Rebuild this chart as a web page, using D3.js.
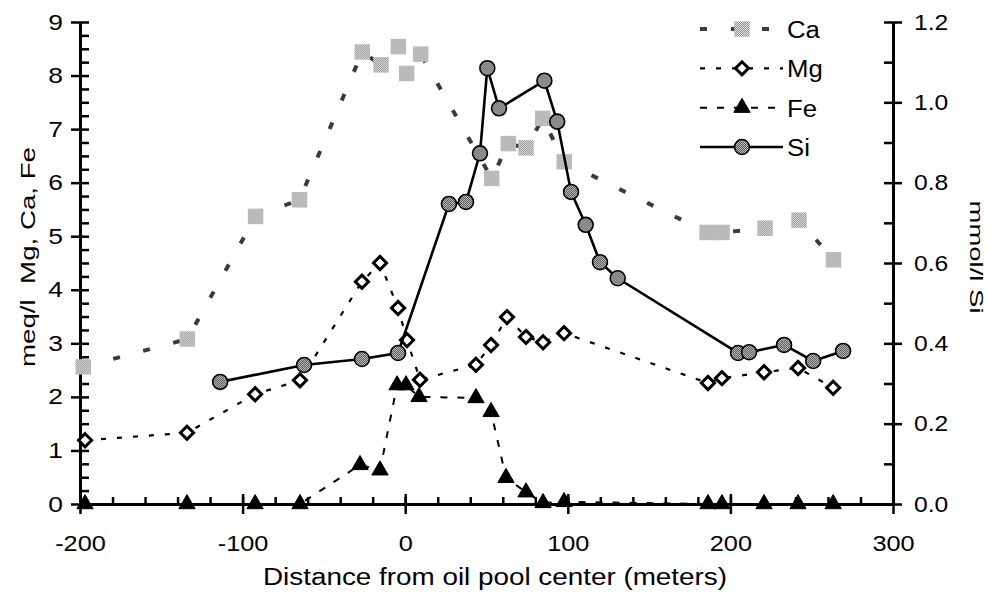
<!DOCTYPE html>
<html>
<head>
<meta charset="utf-8">
<script src="https://cdn.jsdelivr.net/npm/d3@7"></script>
<style>
  body { margin: 0; background: #fff; }
  svg { display: block; font-family: "Liberation Sans", Arial, Helvetica, sans-serif; }
</style>
</head>
<body>
<svg id="chart" width="989" height="598"></svg>
<script>
// distance from oil pool center (m) and concentrations
const caX = [-198, -134, -92, -65, -26.4, -14.9, -4.2, 0.9, 9.5, 53.2, 63.4, 74.3, 84.6, 97.8, 185.7, 194.9, 221.3, 242.2, 263.4];
const caY = [2.56, 3.08, 5.37, 5.68, 8.44, 8.20, 8.54, 8.04, 8.40, 6.08, 6.73, 6.65, 7.20, 6.39, 5.07, 5.07, 5.15, 5.30, 4.56];

const mgX = [-196.9, -134.2, -92.3, -64.7, -26.6, -15.5, -4.4, 1.1, 9.1, 43.5, 52.8, 62.6, 74.3, 84.8, 97.7, 186.2, 194.8, 220.7, 241.6, 263.2];
const mgY = [1.19, 1.33, 2.05, 2.31, 4.15, 4.50, 3.66, 3.06, 2.32, 2.60, 2.97, 3.49, 3.12, 3.02, 3.19, 2.26, 2.35, 2.46, 2.54, 2.17];

const feX = [-196.9, -134.2, -92.3, -64.7, -27.8, -15.5, -5.0, 0.5, 8.5, 43.5, 52.8, 62.0, 74.3, 84.8, 97.7, 186.2, 194.8, 220.7, 241.6, 263.2];
const feY = [0, 0, 0, 0, 0.73, 0.63, 2.22, 2.22, 2.00, 1.98, 1.72, 0.49, 0.22, 0.02, 0.04, 0, 0, 0, 0, 0];

const siX = [-113.8, -62.2, -26.6, -4.4, 26.9, 37.4, 46.0, 50.5, 57.7, 85.6, 93.5, 102.0, 111.0, 119.8, 130.7, 204.7, 211.5, 233.0, 250.9, 269.3];
const siY = [0.304, 0.346, 0.361, 0.376, 0.747, 0.752, 0.873, 1.085, 0.985, 1.054, 0.952, 0.777, 0.695, 0.602, 0.562, 0.376, 0.378, 0.396, 0.356, 0.381];

const xMajor = [-200, -100, 0, 100, 200, 300];
const yLeftMajor = [0, 1, 2, 3, 4, 5, 6, 7, 8, 9];
const yRightMajor = [0, 0.2, 0.4, 0.6, 0.8, 1.0, 1.2];
const legendNames = ["Ca", "Mg", "Fe", "Si"];

const svg = d3.select("#chart");

const x = d3.scaleLinear().domain([-200, 300]).range([80, 893]);
const yL = d3.scaleLinear().domain([0, 9]).range([504, 22]);
const yR = d3.scaleLinear().domain([0, 1.2]).range([504, 22]);

// stipple fills
const defs = svg.append("defs");
function stipple(id, light, dark) {
  const p = defs.append("pattern").attr("id", id)
    .attr("width", 2).attr("height", 2).attr("patternUnits", "userSpaceOnUse");
  p.append("rect").attr("width", 2).attr("height", 2).attr("fill", light);
  p.append("rect").attr("width", 1).attr("height", 1).attr("fill", dark);
  p.append("rect").attr("x", 1).attr("y", 1).attr("width", 1).attr("height", 1).attr("fill", dark);
}
stipple("stipCa", "#e4e4e4", "#909090");
stipple("stipSi", "#c4c4c4", "#505050");

// stretch text a little, the original type is wide
function widen(sel, k) {
  sel.each(function () {
    const w = this.getComputedTextLength();
    d3.select(this).attr("textLength", w * k).attr("lengthAdjust", "spacingAndGlyphs");
  });
}

function styleAxis(g) {
  g.select(".domain").attr("stroke", "#000").attr("stroke-width", 3);
  g.selectAll(".tick line").attr("stroke", "#000").attr("stroke-width", 2.5);
  g.selectAll("text").attr("fill", "#000").style("font-size", "22px");
}

// x axis (plain hyphen for negatives, as in the original)
svg.append("g").attr("transform", "translate(0,504)")
  .call(d3.axisBottom(x).tickValues(d3.range(-200, 301, 20)).tickSize(-7).tickSizeOuter(0).tickFormat(""))
  .call(styleAxis);
const xg = svg.append("g").attr("transform", "translate(0,504)")
  .call(d3.axisBottom(x).tickValues(xMajor).tickSize(10).tickSizeOuter(0).tickPadding(21).tickFormat(d => String(d)))
  .call(styleAxis);
xg.selectAll(".tick line").attr("y1", -10);
widen(xg.selectAll("text"), 1.15);

// left axis
svg.append("g").attr("transform", "translate(80,0)")
  .call(d3.axisLeft(yL).tickValues(d3.range(0, 9.01, 0.25)).tickSize(-9).tickSizeOuter(0).tickFormat(""))
  .call(styleAxis);
const ylg = svg.append("g").attr("transform", "translate(80,0)")
  .call(d3.axisLeft(yL).tickValues(yLeftMajor).tickSize(9).tickSizeOuter(0).tickPadding(8).tickFormat(d => String(d)))
  .call(styleAxis);
widen(ylg.selectAll("text"), 1.2);

// right axis
svg.append("g").attr("transform", "translate(893,0)")
  .call(d3.axisRight(yR).tickValues(d3.range(0, 1.21, 0.1)).tickSize(-9).tickSizeOuter(0).tickFormat(""))
  .call(styleAxis);
const yrg = svg.append("g").attr("transform", "translate(893,0)")
  .call(d3.axisRight(yR).tickValues(yRightMajor).tickSize(9).tickSizeOuter(0).tickPadding(12).tickFormat(d3.format(".1f")))
  .call(styleAxis);
widen(yrg.selectAll("text"), 1.12);

// axis titles
svg.append("text").attr("x", 495).attr("y", 585).attr("text-anchor", "middle")
  .style("font-size", "23px").attr("textLength", 464).attr("lengthAdjust", "spacingAndGlyphs")
  .text("Distance from oil pool center (meters)");
svg.append("text").attr("transform", "translate(35,257) rotate(-90)").attr("text-anchor", "middle")
  .style("font-size", "21px").style("white-space", "pre").attr("textLength", 220).attr("lengthAdjust", "spacingAndGlyphs")
  .text("meq/l  Mg, Ca, Fe");
svg.append("text").attr("transform", "translate(970,257) rotate(90)").attr("text-anchor", "middle")
  .style("font-size", "19px").attr("textLength", 113).attr("lengthAdjust", "spacingAndGlyphs")
  .text("mmol/l Si");

// series
const series = [
  { name: "Ca", xs: caX, ys: caY, y: yL, stroke: "#3a3a3a", width: 4, dash: "7,24", symbol: d3.symbolSquare, size: 240, fill: "url(#stipCa)", outline: "none", sw: 0 },
  { name: "Fe", xs: feX, ys: feY, y: yL, stroke: "#000", width: 2, dash: "7,10", symbol: d3.symbolTriangle, size: 115, fill: "#000", outline: "#000", sw: 1 },
  { name: "Mg", xs: mgX, ys: mgY, y: yL, stroke: "#000", width: 2.2, dash: "5,11", symbol: d3.symbolDiamond2, size: 110, fill: "#fff", outline: "#000", sw: 3 },
  { name: "Si", xs: siX, ys: siY, y: yR, stroke: "#000", width: 2.6, dash: null, symbol: d3.symbolCircle, size: 175, fill: "url(#stipSi)", outline: "#000", sw: 1.6 }
];

series.forEach(s => {
  const pts = s.xs.map((v, i) => [v, s.ys[i]]);
  const g = svg.append("g").attr("class", "series-" + s.name);
  g.append("path")
    .attr("d", d3.line().x(d => x(d[0])).y(d => s.y(d[1]))(pts))
    .attr("fill", "none").attr("stroke", s.stroke).attr("stroke-width", s.width)
    .attr("stroke-dasharray", s.dash);
  g.selectAll("path.mark").data(pts).join("path").attr("class", "mark")
    .attr("transform", d => `translate(${x(d[0])},${s.y(d[1])})`)
    .attr("d", d3.symbol(s.symbol, s.size))
    .attr("fill", s.fill).attr("stroke", s.outline).attr("stroke-width", s.sw);
});

// legend
const bySeries = new Map(series.map(s => [s.name, s]));
const ly = d3.scalePoint().domain(legendNames).range([29, 147]);
legendNames.forEach(n => {
  const s = bySeries.get(n);
  const g = svg.append("g").attr("transform", `translate(0,${ly(n)})`);
  g.append("line").attr("x1", 700).attr("x2", 783)
    .attr("stroke", s.stroke).attr("stroke-width", s.width).attr("stroke-dasharray", s.dash);
  g.append("path").attr("transform", "translate(742,0)")
    .attr("d", d3.symbol(s.symbol, s.size))
    .attr("fill", s.fill).attr("stroke", s.outline).attr("stroke-width", s.sw);
  const t = g.append("text").attr("x", 787).attr("y", 9).style("font-size", "23px").text(n);
  widen(t, 1.12);
});
</script>
</body>
</html>
